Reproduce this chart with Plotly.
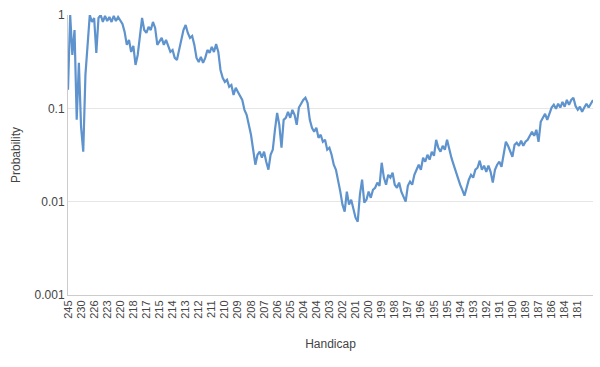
import plotly.graph_objects as go

# Tick labels along the handicap axis (one every 6 samples)
tick_labels = ["245", "230", "226", "223", "220", "218", "217", "215", "214", "213",
               "212", "211", "210", "209", "208", "207", "206", "205", "204", "204",
               "203", "202", "201", "200", "199", "198", "197", "196", "195", "195",
               "194", "193", "192", "191", "190", "189", "187", "186", "184", "181"]
samples_per_tick = 6

# Probability series
probability = [
    0.158, 1.0, 0.373, 0.691, 0.0753, 0.307, 0.0634, 0.0343, 0.228, 0.540,
    1.0, 0.842, 0.929, 0.392, 0.929, 1.0, 0.842, 0.976, 0.863, 0.952,
    0.842, 0.976, 0.863, 0.952, 0.884, 0.801, 0.658, 0.478, 0.540, 0.402,
    0.466, 0.292, 0.373, 0.611, 0.929, 0.691, 0.642, 0.744, 0.691, 0.842,
    0.726, 0.478, 0.514, 0.568, 0.478, 0.540, 0.466, 0.402, 0.422, 0.347,
    0.330, 0.422, 0.540, 0.691, 0.782, 0.642, 0.568, 0.596, 0.478, 0.347,
    0.314, 0.355, 0.307, 0.347, 0.422, 0.392, 0.455, 0.402, 0.490, 0.402,
    0.258, 0.212, 0.192, 0.202, 0.170, 0.178, 0.139, 0.166, 0.150, 0.133,
    0.123, 0.0964, 0.0852, 0.0666, 0.0521, 0.0360, 0.0249, 0.0318, 0.0343, 0.0296,
    0.0343, 0.0268, 0.0220, 0.0318, 0.0360, 0.0589, 0.0895, 0.0666, 0.0378, 0.0753,
    0.0792, 0.0917, 0.0792, 0.0964, 0.0852, 0.0666, 0.102, 0.112, 0.123, 0.130,
    0.114, 0.0753, 0.0619, 0.0561, 0.0619, 0.0484, 0.0521, 0.0438, 0.0460, 0.0360,
    0.0378, 0.0318, 0.0249, 0.0220, 0.0172, 0.0128, 0.00929, 0.00782, 0.0128, 0.00929,
    0.0105, 0.00821, 0.00674, 0.00611, 0.0119, 0.0172, 0.00976, 0.0105, 0.0128, 0.0110,
    0.0134, 0.0141, 0.0160, 0.0148, 0.0261, 0.0181, 0.0152, 0.0194, 0.0181, 0.0204,
    0.0152, 0.0141, 0.0160, 0.0128, 0.0113, 0.0100, 0.0148, 0.0164, 0.0152, 0.0194,
    0.0220, 0.0249, 0.0220, 0.0296, 0.0268, 0.0318, 0.0282, 0.0343, 0.0310, 0.0460,
    0.0378, 0.0343, 0.0397, 0.0360, 0.0460, 0.0360, 0.0296, 0.0249, 0.0209, 0.0172,
    0.0152, 0.0134, 0.0116, 0.0141, 0.0172, 0.0194, 0.0181, 0.0220, 0.0231, 0.0275,
    0.0220, 0.0243, 0.0209, 0.0243, 0.0209, 0.0160, 0.0220, 0.0249, 0.0268, 0.0237,
    0.0318, 0.0438, 0.0397, 0.0343, 0.0303, 0.0407, 0.0428, 0.0397, 0.0449, 0.0397,
    0.0438, 0.0460, 0.0508, 0.0561, 0.0508, 0.0589, 0.0438, 0.0717, 0.0792, 0.0873,
    0.0753, 0.0895, 0.102, 0.109, 0.0988, 0.112, 0.102, 0.117, 0.104, 0.123,
    0.109, 0.123, 0.130, 0.106, 0.0964, 0.104, 0.0917, 0.102, 0.112, 0.102,
    0.112, 0.123,
]

y_tick_values = [0.001, 0.01, 0.1, 1]
y_tick_text = ["0.001", "0.01", "0.1", "1"]

x_index = list(range(len(probability)))
tick_positions = [i * samples_per_tick for i in range(len(tick_labels))]

font_family = "Liberation Sans, Arial, sans-serif"
text_grey = "#444444"

fig = go.Figure()
fig.add_trace(go.Scatter(
    x=x_index, y=probability, mode="lines",
    line=dict(color="#5e93cd", width=2.2),
    hoverinfo="skip", showlegend=False,
))

fig.update_layout(
    width=600, height=367,
    margin=dict(l=68, r=7, t=15, b=72),
    paper_bgcolor="white", plot_bgcolor="white",
    font=dict(family=font_family, size=12, color=text_grey),
    xaxis=dict(
        range=[0, len(probability) - 1],
        tickmode="array", tickvals=tick_positions, ticktext=tick_labels,
        tickangle=-90, tickfont=dict(size=11, color=text_grey),
        showgrid=False, zeroline=False,
        showline=True, linecolor="#cccccc", linewidth=1,
        ticks="", ticklen=0,
        title=dict(text="Handicap", font=dict(size=12, color=text_grey), standoff=21),
        automargin=False,
    ),
    yaxis=dict(
        type="log", range=[-3, 0],
        tickmode="array", tickvals=y_tick_values, ticktext=y_tick_text,
        tickfont=dict(size=12, color=text_grey),
        showgrid=True, gridcolor="#e6e6e6", gridwidth=1,
        zeroline=False, showline=True, linecolor="#cccccc", linewidth=1,
        ticks="", ticklen=0,
        title=dict(text="Probability", font=dict(size=12, color=text_grey), standoff=11),
        automargin=False,
    ),
)

fig.write_html("out.html", config={"displayModeBar": False},
               post_script="document.body.style.margin='0';")
